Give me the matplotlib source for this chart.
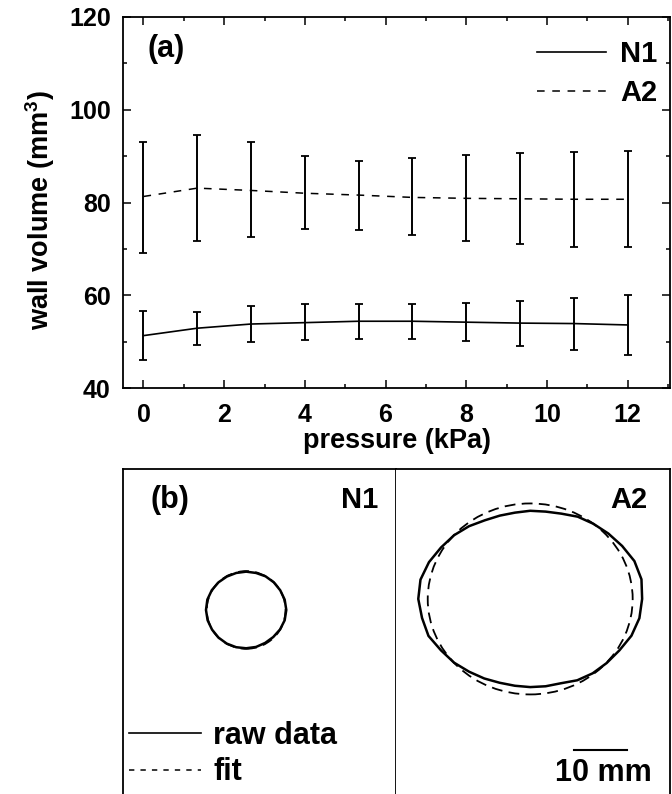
import numpy as np
import matplotlib
matplotlib.use('Agg')
import matplotlib.pyplot as plt
from matplotlib.patches import Ellipse, Polygon
from matplotlib.lines import Line2D
from matplotlib.ticker import MultipleLocator

plt.rcParams['font.family'] = ['Liberation Sans', 'DejaVu Sans']
plt.rcParams['font.weight'] = 'bold'
plt.rcParams['mathtext.fontset'] = 'custom'
plt.rcParams['mathtext.rm'] = 'Liberation Sans:bold'
plt.rcParams['mathtext.it'] = 'Liberation Sans:bold'
plt.rcParams['mathtext.bf'] = 'Liberation Sans:bold'

# ---------------- data: panel (a) ----------------
pressure = [0, 1.333, 2.667, 4, 5.333, 6.667, 8, 9.333, 10.667, 12]
n1_mean = [51.3, 52.9, 53.8, 54.1, 54.4, 54.4, 54.2, 54.0, 53.9, 53.6]
n1_low = [46.1, 49.2, 49.9, 50.3, 50.6, 50.6, 50.1, 49.1, 48.1, 47.2]
n1_high = [56.7, 56.4, 57.6, 58.1, 58.1, 58.1, 58.3, 58.8, 59.4, 60.1]
a2_mean = [81.3, 83.1, 82.6, 82.0, 81.6, 81.1, 80.9, 80.8, 80.7, 80.7]
a2_low = [69.1, 71.6, 72.5, 74.2, 74.1, 72.9, 71.8, 71.0, 70.5, 70.4]
a2_high = [93.1, 94.5, 93.1, 90.0, 89.0, 89.5, 90.2, 90.6, 90.9, 91.2]

x_ticks = [0, 2, 4, 6, 8, 10, 12]
y_ticks = [40, 60, 80, 100, 120]

# ---------------- data: panel (b) (mm) ----------------
n1_angles_deg = [0, 15, 30, 45, 60, 75, 90, 105, 120, 135, 150, 165,
                 180, 195, 210, 225, 240, 255, 270, 285, 300, 315, 330, 345]
n1_raw_radius = [7.65, 7.6, 7.5, 7.45, 7.4, 7.3, 7.3, 7.3, 7.35, 7.45, 7.55, 7.65,
                 7.65, 7.6, 7.5, 7.45, 7.4, 7.35, 7.3, 7.3, 7.25, 7.3, 7.45, 7.6]
a2_angles_deg = [0, 10, 20, 30, 40, 50, 60, 70, 80, 90, 100, 110,
                 120, 130, 140, 150, 160, 170, 180, 190, 200, 210, 220, 230,
                 240, 250, 260, 270, 280, 290, 300, 310, 320, 330, 340, 350]
a2_raw_radius = [21.3, 21.5, 21.1, 20.2, 19.4, 18.7, 18.1, 17.3, 16.9, 16.8, 16.7, 16.9,
                 17.3, 18.1, 18.9, 19.6, 20.5, 21.2, 21.3, 20.9, 20.6, 19.6, 18.9, 18.1,
                 17.5, 17.0, 16.8, 16.8, 16.9, 17.1, 17.9, 18.5, 19.0, 19.6, 20.5, 21.1]
n1_center = (23.4, -26.8)
a2_center = (25.6, -24.7)
n1_fit_size = (15.0, 14.8)   # width, height
a2_fit_size = (39.0, 36.4)
scale_bar_mm = 10

fig = plt.figure(figsize=(6.72, 7.94), dpi=100)

# ---------------- panel (a) ----------------
ax = fig.add_axes([0.1835, 0.5113, 0.8135, 0.4673])
p = np.array(pressure)
for mean, low, high in [(n1_mean, n1_low, n1_high), (a2_mean, a2_low, a2_high)]:
    m = np.array(mean)
    ax.errorbar(p, m, yerr=[m - np.array(low), np.array(high) - m], fmt='none',
                ecolor='black', elinewidth=1.4, capsize=3.2, capthick=1.3)
ax.plot(p, n1_mean, color='black', lw=1.2, label='N1')
ax.plot(p, a2_mean, color='black', lw=1.1, ls=(0, (5, 5)), label='A2')

ax.set_xlim(-0.5, 13.05)
ax.set_ylim(40, 120)
ax.set_xticks(x_ticks)
ax.set_yticks(y_ticks)
ax.xaxis.set_minor_locator(MultipleLocator(1))
ax.yaxis.set_minor_locator(MultipleLocator(10))
ax.tick_params(which='both', direction='in', top=True, right=True, width=1.1,
               labelsize=18)
ax.tick_params(axis='x', which='both', pad=10.5)
ax.tick_params(axis='y', which='both', pad=9)
ax.tick_params(which='major', length=6)
ax.tick_params(which='minor', length=3)
for s in ax.spines.values():
    s.set_linewidth(1.3)
ax.set_xlabel('pressure (kPa)', fontsize=19.5, fontweight='bold', labelpad=1)
ax.set_ylabel('wall volume (mm$^3$)', fontsize=19.5, fontweight='bold')
ax.yaxis.set_label_coords(-0.122, 0.48)
ax.text(0.045, 0.915, '(a)', transform=ax.transAxes, fontsize=22,
        fontweight='bold', ha='left', va='center')
ax.legend(loc='upper left', bbox_to_anchor=(0.757, 0.937), frameon=False,
          fontsize=21, handlelength=2.36, handletextpad=0.48, labelspacing=0.36,
          borderpad=0, borderaxespad=0)

# ---------------- panel (b) ----------------
axL = fig.add_axes([0.1835, -0.02, 0.4054, 0.4289])
axR = fig.add_axes([0.5888, -0.02, 0.4082, 0.4289])
axL.set_xlim(0, 51.9)
axR.set_xlim(0, 52.2)
for a in (axL, axR):
    a.set_ylim(-64.9, 0)
    a.set_xticks([])
    a.set_yticks([])
    a.spines['bottom'].set_visible(False)
    for s in a.spines.values():
        s.set_linewidth(1.3)
axR.spines['left'].set_visible(False)

for a, center, ang, radius, fit_size in [
        (axL, n1_center, n1_angles_deg, n1_raw_radius, n1_fit_size),
        (axR, a2_center, a2_angles_deg, a2_raw_radius, a2_fit_size)]:
    th = np.deg2rad(ang)
    r = np.array(radius)
    pts = np.column_stack([center[0] + r * np.cos(th), center[1] + r * np.sin(th)])
    a.add_patch(Ellipse(center, fit_size[0], fit_size[1], fill=False,
                        ec='black', lw=1.3, ls=(0, (6, 3.5))))
    a.add_patch(Polygon(pts, closed=True, fill=False, ec='black', lw=1.8,
                        joinstyle='round'))

axL.text(5.1, -5.85, '(b)', fontsize=22, fontweight='bold', ha='left', va='center')
axL.text(48.5, -5.85, 'N1', fontsize=21, fontweight='bold', ha='right', va='center')
axR.text(47.9, -5.85, 'A2', fontsize=21, fontweight='bold', ha='right', va='center')

sb_x0 = 34.0
axR.plot([sb_x0, sb_x0 + scale_bar_mm], [-53.4, -53.4], color='black', lw=1.5)
axR.text(sb_x0 + scale_bar_mm / 2 + 0.5, -59.4, f'{scale_bar_mm} mm', fontsize=22,
         fontweight='bold', ha='center', va='baseline')

handles = [Line2D([], [], color='black', lw=1.2),
           Line2D([], [], color='black', lw=1.1, ls=(0, (3.5, 4)))]
axL.legend(handles, ['raw data', 'fit'], loc='upper left',
           bbox_to_anchor=(0.02, 0.262), frameon=False, fontsize=22,
           handlelength=2.35, handletextpad=0.42, labelspacing=0.22,
           borderpad=0, borderaxespad=0)

fig.savefig('out.png', dpi=100)
